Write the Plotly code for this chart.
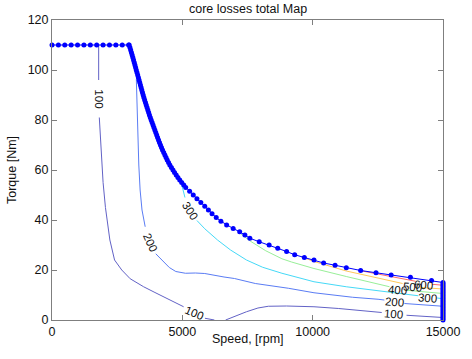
import plotly.graph_objects as go

# ---------------- data ----------------
# torque-speed envelope (blue dotted line)
env_speed = [0, 245, 490, 735, 980, 1225, 1470, 1715, 1960, 2205, 2450, 2695, 2940,
             2961, 2990, 3018, 3046, 3074, 3101, 3128, 3155, 3181, 3207, 3233, 3260, 3287,
             3313, 3339, 3365, 3392, 3418, 3444, 3470, 3497, 3524, 3554, 3585, 3615, 3646,
             3676, 3707, 3737, 3770, 3805, 3840, 3875, 3910, 3945, 3980, 4015, 4050, 4087,
             4122, 4160, 4200, 4240, 4285, 4330, 4375, 4420, 4470, 4520, 4580, 4640, 4700,
             4765, 4830, 4900, 4975, 5055, 5130,
             5280, 5420, 5560, 5710, 5860, 6000, 6140, 6300, 6480, 6700, 6950, 7200,
             7400, 7590, 7950, 8330, 8660, 9000, 9310, 9680, 10050, 10420, 10860, 11290,
             11840, 12430, 13010, 13750, 14560, 15000,
             15000, 15000, 15000, 15000, 15000, 15000, 15000, 15000, 15000, 15000, 15000,
             15000, 15000, 15000, 15000, 15000, 15000, 15000, 15000, 15000, 15000, 15000,
             15000, 15000, 15000]
env_torque = [110, 110, 110, 110, 110, 110, 110, 110, 110, 110, 110, 110, 110,
              110, 109, 108, 107, 106, 105, 104, 103, 102, 101, 100, 99, 98,
              97, 96, 95, 94, 93, 92, 91, 90, 89, 88, 87, 86, 85,
              84, 83, 82, 81, 80, 79, 78, 77, 76, 75, 74, 73, 72,
              71, 70, 69, 68, 67, 66, 65, 64, 63, 62, 61, 60, 59,
              58, 57, 56, 55, 54, 53,
              51.5, 50, 48.5, 47, 45.5, 44, 42.5, 41, 39.5, 38, 36.6, 35.3,
              34, 32.7, 31.3, 30.0, 28.7, 27.4, 26.1, 25.0, 24.0, 22.8, 21.9, 20.9,
              19.8, 18.9, 18.0, 17.1, 15.8, 15.0,
              14.4, 13.8, 13.2, 12.6, 12.0, 11.4, 10.8, 10.2, 9.6, 9.0, 8.4,
              7.8, 7.2, 6.6, 6.0, 5.4, 4.8, 4.2, 3.6, 3.0, 2.4, 1.8,
              1.2, 0.6, 0.0]

# iso-loss contour lines (None = gap under a label)
c100a_speed = [1790, 1790, None, 1815, 1850, 1900, 1960, 2050, 2150, 2220, 2400, 2676,
               3000, 3515, 3950, 4378, 4750, 5050, None, 5866, 6230]
c100a_torque = [110, 96, None, 81, 75, 66, 55, 45, 37, 32, 24, 20,
                16.5, 13.3, 11, 8.7, 6.7, 5.3, None, 0.7, 0]
c100b_speed = [6660, 7000, 7460, 7900, 8300, 9000, 10050, 11000, 12000, 12650, None, 13600, 15000]
c100b_torque = [0, 1.5, 3.3, 4.8, 5.5, 5.6, 5.3, 4.6, 3.7, 3.0, None, 1.9, 1.0]
c200_speed = [3235, 3255, 3268, 3300, 3330, 3380, 3453, 3575, None, 3980, 4256, 4500, 4750,
              5118, 5500, 5860, 6600, 7000, 7800, 9067, 10050, 11530, 12510, 12750, None,
              13520, 15000]
c200_torque = [96.3, 88, 80, 70, 62, 52, 44, 37.3, None, 26.5, 23.6, 21, 19.4,
               18.7, 18.8, 18.6, 17.2, 16.6, 14.6, 12.7, 10.9, 9.1, 8.3, 8.0, None,
               6.6, 5.5]
c300_speed = [4933, 5020, 5100, None, 5560, 5860, 6350, 6850, 7460, 8080, 8820, 10050,
              11290, 12890, 14050, None, 14780, 15000]
c300_torque = [56, 52, 49, None, 39.8, 36.5, 32, 28, 24, 21.1, 18.7, 15.3,
               13.3, 11.3, 9.7, None, 8.8, 8.5]
c400_speed = [7217, 7600, 8200, 8820, 9190, 10050, 11290, 12500, 12950, None, 13600, 15000]
c400_torque = [34.7, 31.6, 27.7, 24.5, 23.2, 20.6, 17.4, 14.4, 13.3, None, 11.9, 10.6]
c500_speed = [9560, 10050, 11290, 12510, 13450, None, 14180, 15000]
c500_torque = [25.3, 23.4, 19.6, 16.9, 14.6, None, 13.0, 12.4]
c600_speed = [11900, 12430, 12890, 13500, 13950, None, 14580, 15000]
c600_torque = [19.6, 18.5, 17.6, 16.2, 15.5, None, 14.3, 13.9]

# contour labels: text, speed, torque, angle
lab_text = ["100", "200", "300", "100", "400", "500", "600", "300", "200", "100"]
lab_speed = [1790, 3760, 5310, 5455, 13260, 13816, 14260, 14408, 13131, 13113]
lab_torque = [88.4, 31.2, 43.8, 3.0, 12.0, 13.2, 14.0, 9.0, 7.2, 2.4]
lab_angle = [90, 66, 57, 23, 5, 5, 5, 5, 5, 5]

x_ticks = [0, 5000, 10000, 15000]
y_ticks = [0, 20, 40, 60, 80, 100, 120]

# ---------------- figure ----------------
FONT = "Liberation Sans, Arial, sans-serif"
fig = go.Figure()

contours = [
    (c100a_speed, c100a_torque, "#6262c6"),
    (c100b_speed, c100b_torque, "#6262c6"),
    (c200_speed, c200_torque, "#5a7cf4"),
    (c300_speed, c300_torque, "#45d9f7"),
    (c400_speed, c400_torque, "#98ef98"),
    (c500_speed, c500_torque, "#ffc85a"),
    (c600_speed, c600_torque, "#ff6a6a"),
]
for xs, ys, col in contours:
    fig.add_trace(go.Scatter(x=xs, y=ys, mode="lines", line=dict(color=col, width=1),
                             connectgaps=False, showlegend=False, hoverinfo="skip"))

fig.add_trace(go.Scatter(x=env_speed, y=env_torque, mode="lines+markers",
                         line=dict(color="#0000ff", width=1),
                         marker=dict(color="#0000ff", size=5),
                         showlegend=False, cliponaxis=False))

for t, sx, ty, a in zip(lab_text, lab_speed, lab_torque, lab_angle):
    fig.add_annotation(x=sx, y=ty, text=t, showarrow=False, textangle=a,
                       font=dict(family=FONT, size=11.5, color="#111111"))

axis_common = dict(showgrid=False, zeroline=False, showline=True, linecolor="#7f7f7f",
                   linewidth=1, mirror="ticks", ticks="inside", ticklen=5, tickcolor="#7f7f7f",
                   tickfont=dict(family=FONT, size=12.5, color="#111111"))
fig.update_xaxes(range=[0, 15000], tickvals=x_ticks, ticktext=[str(v) for v in x_ticks],
                 ticklabeloverflow="allow", **axis_common)
fig.update_yaxes(range=[0, 120], tickvals=y_ticks, ticktext=[str(v) for v in y_ticks],
                 **axis_common)

fig.add_annotation(text="core losses total Map", xref="paper", yref="paper",
                   x=0.5, y=1, yshift=11, yanchor="middle", showarrow=False,
                   font=dict(family=FONT, size=12.5, color="#111111"))
fig.add_annotation(text="Speed, [rpm]", xref="paper", yref="paper",
                   x=0.5, y=0, yshift=-19, yanchor="middle", showarrow=False,
                   font=dict(family=FONT, size=12.5, color="#111111"))
fig.add_annotation(text="Torque [Nm]", xref="paper", yref="paper",
                   x=0, xshift=-40, xanchor="center", y=0.5, yanchor="middle",
                   textangle=-90, showarrow=False,
                   font=dict(family=FONT, size=12.5, color="#111111"))

fig.update_layout(width=472, height=359, margin=dict(l=52, r=15, t=20, b=39),
                  plot_bgcolor="white", paper_bgcolor="white")

fig.write_html("out.html", config={"displayModeBar": False},
               post_script="document.body.style.margin='0';document.body.style.overflow='hidden';")
